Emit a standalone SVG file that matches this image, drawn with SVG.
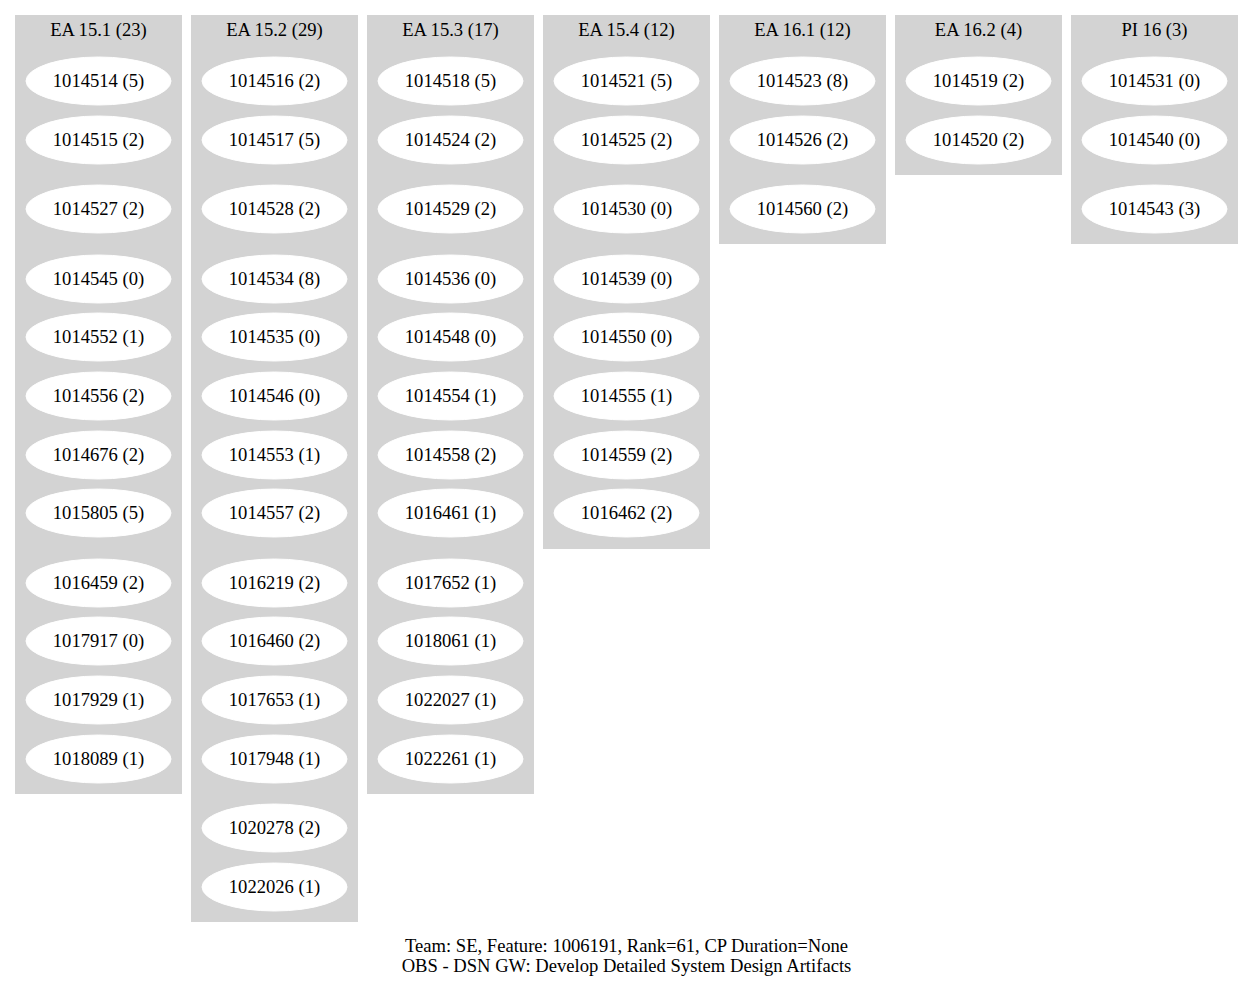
<svg xmlns="http://www.w3.org/2000/svg" width="1253" height="988" viewBox="0 0 1253 988">
  <style>
    text { font-family: "Liberation Serif", "Times New Roman", serif; font-size: 18.6px; fill: #000; text-anchor: middle; }
    .cluster { fill: #d3d3d3; stroke: #d3d3d3; }
    .node { fill: #ffffff; stroke: #ffffff; }
  </style>
  <rect width="1253" height="988" fill="#ffffff"/>

  <!-- EA 15.1 -->
  <g id="cluster_ea151">
    <rect class="cluster" x="15.5" y="15.5" width="166" height="778"/>
    <text x="98.5" y="36">EA 15.1 (23)</text>
    <g id="n1014514"><ellipse class="node" cx="98.5" cy="81" rx="72.5" ry="24"/><text x="98.5" y="87">1014514 (5)</text></g>
    <g id="n1014515"><ellipse class="node" cx="98.5" cy="140" rx="72.5" ry="24"/><text x="98.5" y="146">1014515 (2)</text></g>
    <g id="n1014527"><ellipse class="node" cx="98.5" cy="209" rx="72.5" ry="24"/><text x="98.5" y="215">1014527 (2)</text></g>
    <g id="n1014545"><ellipse class="node" cx="98.5" cy="279" rx="72.5" ry="24"/><text x="98.5" y="285">1014545 (0)</text></g>
    <g id="n1014552"><ellipse class="node" cx="98.5" cy="337" rx="72.5" ry="24"/><text x="98.5" y="343">1014552 (1)</text></g>
    <g id="n1014556"><ellipse class="node" cx="98.5" cy="396" rx="72.5" ry="24"/><text x="98.5" y="402">1014556 (2)</text></g>
    <g id="n1014676"><ellipse class="node" cx="98.5" cy="455" rx="72.5" ry="24"/><text x="98.5" y="461">1014676 (2)</text></g>
    <g id="n1015805"><ellipse class="node" cx="98.5" cy="513" rx="72.5" ry="24"/><text x="98.5" y="519">1015805 (5)</text></g>
    <g id="n1016459"><ellipse class="node" cx="98.5" cy="583" rx="72.5" ry="24"/><text x="98.5" y="589">1016459 (2)</text></g>
    <g id="n1017917"><ellipse class="node" cx="98.5" cy="641" rx="72.5" ry="24"/><text x="98.5" y="647">1017917 (0)</text></g>
    <g id="n1017929"><ellipse class="node" cx="98.5" cy="700" rx="72.5" ry="24"/><text x="98.5" y="706">1017929 (1)</text></g>
    <g id="n1018089"><ellipse class="node" cx="98.5" cy="759" rx="72.5" ry="24"/><text x="98.5" y="765">1018089 (1)</text></g>
  </g>

  <!-- EA 15.2 -->
  <g id="cluster_ea152">
    <rect class="cluster" x="191.5" y="15.5" width="166" height="906"/>
    <text x="274.5" y="36">EA 15.2 (29)</text>
    <g id="n1014516"><ellipse class="node" cx="274.5" cy="81" rx="72.5" ry="24"/><text x="274.5" y="87">1014516 (2)</text></g>
    <g id="n1014517"><ellipse class="node" cx="274.5" cy="140" rx="72.5" ry="24"/><text x="274.5" y="146">1014517 (5)</text></g>
    <g id="n1014528"><ellipse class="node" cx="274.5" cy="209" rx="72.5" ry="24"/><text x="274.5" y="215">1014528 (2)</text></g>
    <g id="n1014534"><ellipse class="node" cx="274.5" cy="279" rx="72.5" ry="24"/><text x="274.5" y="285">1014534 (8)</text></g>
    <g id="n1014535"><ellipse class="node" cx="274.5" cy="337" rx="72.5" ry="24"/><text x="274.5" y="343">1014535 (0)</text></g>
    <g id="n1014546"><ellipse class="node" cx="274.5" cy="396" rx="72.5" ry="24"/><text x="274.5" y="402">1014546 (0)</text></g>
    <g id="n1014553"><ellipse class="node" cx="274.5" cy="455" rx="72.5" ry="24"/><text x="274.5" y="461">1014553 (1)</text></g>
    <g id="n1014557"><ellipse class="node" cx="274.5" cy="513" rx="72.5" ry="24"/><text x="274.5" y="519">1014557 (2)</text></g>
    <g id="n1016219"><ellipse class="node" cx="274.5" cy="583" rx="72.5" ry="24"/><text x="274.5" y="589">1016219 (2)</text></g>
    <g id="n1016460"><ellipse class="node" cx="274.5" cy="641" rx="72.5" ry="24"/><text x="274.5" y="647">1016460 (2)</text></g>
    <g id="n1017653"><ellipse class="node" cx="274.5" cy="700" rx="72.5" ry="24"/><text x="274.5" y="706">1017653 (1)</text></g>
    <g id="n1017948"><ellipse class="node" cx="274.5" cy="759" rx="72.5" ry="24"/><text x="274.5" y="765">1017948 (1)</text></g>
    <g id="n1020278"><ellipse class="node" cx="274.5" cy="828" rx="72.5" ry="24"/><text x="274.5" y="834">1020278 (2)</text></g>
    <g id="n1022026"><ellipse class="node" cx="274.5" cy="887" rx="72.5" ry="24"/><text x="274.5" y="893">1022026 (1)</text></g>
  </g>

  <!-- EA 15.3 -->
  <g id="cluster_ea153">
    <rect class="cluster" x="367.5" y="15.5" width="166" height="778"/>
    <text x="450.5" y="36">EA 15.3 (17)</text>
    <g id="n1014518"><ellipse class="node" cx="450.5" cy="81" rx="72.5" ry="24"/><text x="450.5" y="87">1014518 (5)</text></g>
    <g id="n1014524"><ellipse class="node" cx="450.5" cy="140" rx="72.5" ry="24"/><text x="450.5" y="146">1014524 (2)</text></g>
    <g id="n1014529"><ellipse class="node" cx="450.5" cy="209" rx="72.5" ry="24"/><text x="450.5" y="215">1014529 (2)</text></g>
    <g id="n1014536"><ellipse class="node" cx="450.5" cy="279" rx="72.5" ry="24"/><text x="450.5" y="285">1014536 (0)</text></g>
    <g id="n1014548"><ellipse class="node" cx="450.5" cy="337" rx="72.5" ry="24"/><text x="450.5" y="343">1014548 (0)</text></g>
    <g id="n1014554"><ellipse class="node" cx="450.5" cy="396" rx="72.5" ry="24"/><text x="450.5" y="402">1014554 (1)</text></g>
    <g id="n1014558"><ellipse class="node" cx="450.5" cy="455" rx="72.5" ry="24"/><text x="450.5" y="461">1014558 (2)</text></g>
    <g id="n1016461"><ellipse class="node" cx="450.5" cy="513" rx="72.5" ry="24"/><text x="450.5" y="519">1016461 (1)</text></g>
    <g id="n1017652"><ellipse class="node" cx="450.5" cy="583" rx="72.5" ry="24"/><text x="450.5" y="589">1017652 (1)</text></g>
    <g id="n1018061"><ellipse class="node" cx="450.5" cy="641" rx="72.5" ry="24"/><text x="450.5" y="647">1018061 (1)</text></g>
    <g id="n1022027"><ellipse class="node" cx="450.5" cy="700" rx="72.5" ry="24"/><text x="450.5" y="706">1022027 (1)</text></g>
    <g id="n1022261"><ellipse class="node" cx="450.5" cy="759" rx="72.5" ry="24"/><text x="450.5" y="765">1022261 (1)</text></g>
  </g>

  <!-- EA 15.4 -->
  <g id="cluster_ea154">
    <rect class="cluster" x="543.5" y="15.5" width="166" height="533"/>
    <text x="626.5" y="36">EA 15.4 (12)</text>
    <g id="n1014521"><ellipse class="node" cx="626.5" cy="81" rx="72.5" ry="24"/><text x="626.5" y="87">1014521 (5)</text></g>
    <g id="n1014525"><ellipse class="node" cx="626.5" cy="140" rx="72.5" ry="24"/><text x="626.5" y="146">1014525 (2)</text></g>
    <g id="n1014530"><ellipse class="node" cx="626.5" cy="209" rx="72.5" ry="24"/><text x="626.5" y="215">1014530 (0)</text></g>
    <g id="n1014539"><ellipse class="node" cx="626.5" cy="279" rx="72.5" ry="24"/><text x="626.5" y="285">1014539 (0)</text></g>
    <g id="n1014550"><ellipse class="node" cx="626.5" cy="337" rx="72.5" ry="24"/><text x="626.5" y="343">1014550 (0)</text></g>
    <g id="n1014555"><ellipse class="node" cx="626.5" cy="396" rx="72.5" ry="24"/><text x="626.5" y="402">1014555 (1)</text></g>
    <g id="n1014559"><ellipse class="node" cx="626.5" cy="455" rx="72.5" ry="24"/><text x="626.5" y="461">1014559 (2)</text></g>
    <g id="n1016462"><ellipse class="node" cx="626.5" cy="513" rx="72.5" ry="24"/><text x="626.5" y="519">1016462 (2)</text></g>
  </g>

  <!-- EA 16.1 -->
  <g id="cluster_ea161">
    <rect class="cluster" x="719.5" y="15.5" width="166" height="228"/>
    <text x="802.5" y="36">EA 16.1 (12)</text>
    <g id="n1014523"><ellipse class="node" cx="802.5" cy="81" rx="72.5" ry="24"/><text x="802.5" y="87">1014523 (8)</text></g>
    <g id="n1014526"><ellipse class="node" cx="802.5" cy="140" rx="72.5" ry="24"/><text x="802.5" y="146">1014526 (2)</text></g>
    <g id="n1014560"><ellipse class="node" cx="802.5" cy="209" rx="72.5" ry="24"/><text x="802.5" y="215">1014560 (2)</text></g>
  </g>

  <!-- EA 16.2 -->
  <g id="cluster_ea162">
    <rect class="cluster" x="895.5" y="15.5" width="166" height="159"/>
    <text x="978.5" y="36">EA 16.2 (4)</text>
    <g id="n1014519"><ellipse class="node" cx="978.5" cy="81" rx="72.5" ry="24"/><text x="978.5" y="87">1014519 (2)</text></g>
    <g id="n1014520"><ellipse class="node" cx="978.5" cy="140" rx="72.5" ry="24"/><text x="978.5" y="146">1014520 (2)</text></g>
  </g>

  <!-- PI 16 -->
  <g id="cluster_pi16">
    <rect class="cluster" x="1071.5" y="15.5" width="166" height="228"/>
    <text x="1154.5" y="36">PI 16 (3)</text>
    <g id="n1014531"><ellipse class="node" cx="1154.5" cy="81" rx="72.5" ry="24"/><text x="1154.5" y="87">1014531 (0)</text></g>
    <g id="n1014540"><ellipse class="node" cx="1154.5" cy="140" rx="72.5" ry="24"/><text x="1154.5" y="146">1014540 (0)</text></g>
    <g id="n1014543"><ellipse class="node" cx="1154.5" cy="209" rx="72.5" ry="24"/><text x="1154.5" y="215">1014543 (3)</text></g>
  </g>

  <!-- no edges in this graph -->
  <g id="edges"></g>

  <!-- graph label -->
  <g id="graph_label">
    <text x="626.5" y="952">Team: SE, Feature: 1006191, Rank=61, CP Duration=None</text>
    <text x="626.5" y="972">OBS - DSN GW: Develop Detailed System Design Artifacts</text>
  </g>
</svg>
